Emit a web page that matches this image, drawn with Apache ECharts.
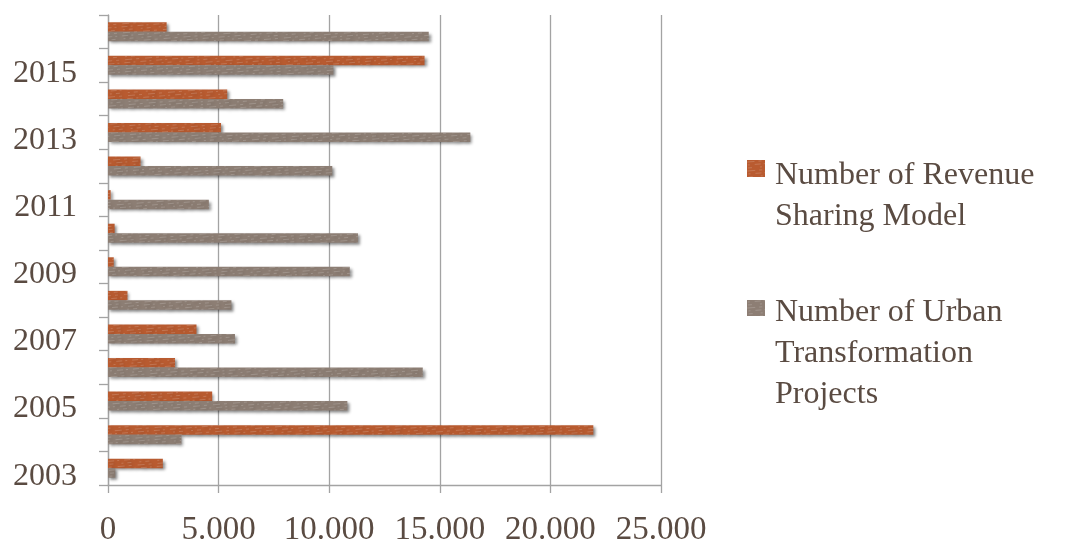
<!DOCTYPE html>
<html>
<head>
<meta charset="utf-8">
<script src="https://cdn.jsdelivr.net/npm/echarts@6/dist/echarts.min.js"></script>
<style>
  html, body { margin: 0; padding: 0; background: #ffffff; }
  #chart { width: 1072px; height: 547px; }
</style>
</head>
<body>
<div id="chart"></div>
<script>
// Years on the category axis (bottom to top)
const years = ['2003', '2004', '2005', '2006', '2007', '2008', '2009',
               '2010', '2011', '2012', '2013', '2014', '2015', '2016'];

// Number of Revenue Sharing Model, per year
const revenueSharing = [2480, 21940, 4710, 3030, 4000, 880, 260,
                        300, 120, 1470, 5110, 5390, 14310, 2650];

// Number of Urban Transformation Projects, per year
const urbanProjects = [330, 3320, 10820, 14230, 5740, 5580, 10930,
                       11300, 4560, 10140, 16380, 7920, 10190, 14500];

// Value axis ticks
const valueTicks = [0, 5000, 10000, 15000, 20000, 25000];

const seriesNames = ['Number of Revenue Sharing Model', 'Number of Urban Transformation Projects'];
const legendText = [['Number of Revenue', 'Sharing Model'], ['Number of Urban', 'Transformation', 'Projects']];

const FONT = 'Liberation Serif';
const TEXT = '#5a4b42';
const GRID = '#a3a3a3';
const ORANGE = '#b95b30';
const TAUPE = '#8d7e74';

// faint streaky texture laid over the bar fills
const texture = {
  symbol: 'rect',
  symbolSize: 1,
  color: 'rgba(255,255,255,0.17)',
  dashArrayX: [[7, 4, 3, 6], [2, 5, 6, 3], [4, 8, 2, 4]],
  dashArrayY: [1, 2],
  rotation: -0.08
};

function thousands(v) {
  return String(v).replace(/\B(?=(\d{3})+(?!\d))/g, '.');
}

const barStyle = (color) => ({
  color: color,
  decal: texture,
  shadowBlur: 3,
  shadowOffsetX: 2,
  shadowOffsetY: 2,
  shadowColor: 'rgba(0,0,0,0.45)'
});

// legend swatch sits beside the first text line of a multi-line label
function swatchPath(top, size, totalH) {
  return 'path://M0,' + top + 'h18v' + size + 'h-18z M23,0 M23,' + totalH;
}

const LINE_H = 41;

const chart = echarts.init(document.getElementById('chart'), null, { renderer: 'canvas' });

chart.setOption({
  animation: false,
  backgroundColor: '#ffffff',
  grid: { left: 108, right: 411, top: 15, bottom: 60, containLabel: false },
  legend: [0, 1].map((i) => ({
    data: [seriesNames[i]],
    orient: 'vertical',
    left: 747,
    top: i === 0 ? 155.5 : 292.5,
    padding: 0,
    itemWidth: 23,
    itemHeight: legendText[i].length * LINE_H,
    icon: i === 0 ? swatchPath(4.5, 17, 2 * LINE_H) : swatchPath(7.5, 16, 3 * LINE_H),
    itemStyle: { shadowBlur: 0, shadowOffsetX: 0, shadowOffsetY: 0 },
    selectedMode: false,
    formatter: () => legendText[i].join('\n'),
    textStyle: { fontFamily: FONT, fontSize: 32, color: TEXT, lineHeight: LINE_H }
  })),
  xAxis: {
    type: 'value',
    min: valueTicks[0],
    max: valueTicks[valueTicks.length - 1],
    interval: valueTicks[1] - valueTicks[0],
    axisLine: { show: true, lineStyle: { color: GRID, width: 1.3 } },
    axisTick: { show: true, length: 8, lineStyle: { color: GRID, width: 1.3 } },
    splitLine: { show: true, lineStyle: { color: GRID, width: 1.3 } },
    axisLabel: {
      fontFamily: FONT, fontSize: 33, color: TEXT, margin: 29,
      formatter: (v) => thousands(v)
    }
  },
  yAxis: {
    type: 'category',
    data: years,
    axisLine: { show: true, lineStyle: { color: GRID, width: 1.3 } },
    axisTick: { show: true, length: 9, interval: 0, lineStyle: { color: GRID, width: 1.3 } },
    splitLine: { show: false },
    axisLabel: {
      interval: 1, fontFamily: FONT, fontSize: 32, color: TEXT, margin: 31,
      verticalAlign: 'top', lineHeight: 16
    }
  },
  series: [
    {
      name: seriesNames[0],
      type: 'bar',
      data: revenueSharing,
      barWidth: 9.5,
      barGap: '0%',
      itemStyle: barStyle(ORANGE)
    },
    {
      name: seriesNames[1],
      type: 'bar',
      data: urbanProjects,
      barWidth: 9.5,
      barGap: '0%',
      itemStyle: barStyle(TAUPE)
    }
  ]
});
</script>
</body>
</html>
